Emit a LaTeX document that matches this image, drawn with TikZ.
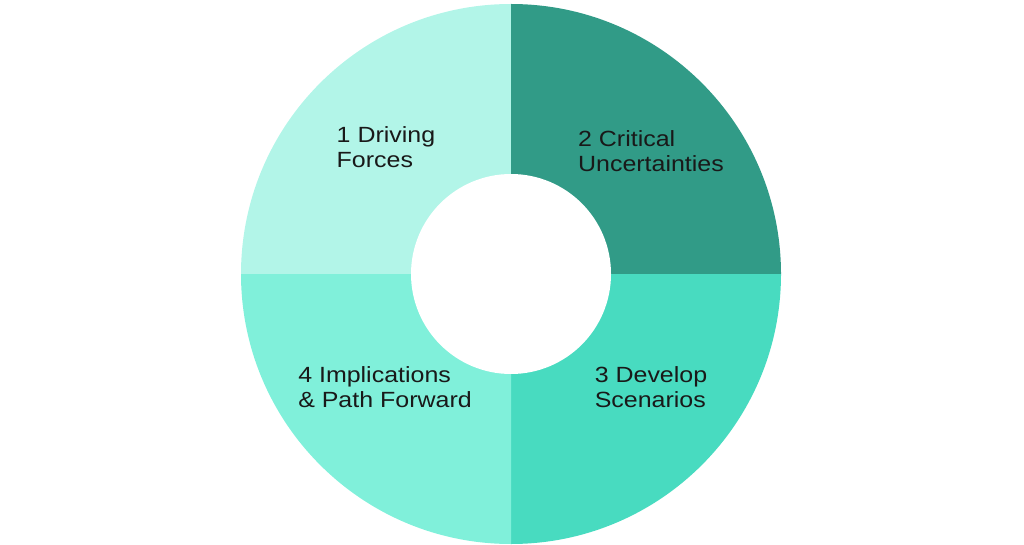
\documentclass[tikz,border=0pt]{standalone}
\usepackage{fontspec}
\setmainfont{Liberation Sans}[FakeStretch=1.135]
\usepackage{tikz}
\usetikzlibrary{positioning}
\definecolor{drive}{HTML}{B2F5E8}
\definecolor{crit}{HTML}{319B87}
\definecolor{dev}{HTML}{48DBC0}
\definecolor{impl}{HTML}{80F0DA}
\tikzset{
  lbl/.style={align=left, inner sep=0pt, font=\fontsize{22}{24.5}\selectfont, text=black!90},
}
\begin{document}
\begin{tikzpicture}[x=1pt, y=1pt]
  \useasboundingbox (0,0) rectangle (1024,544);
  \coordinate (ctr) at (511,270);
  % quadrants
  \fill[drive] (ctr) -- ++(90:270pt) arc (90:180:270pt) -- cycle;
  \fill[crit] (ctr) -- ++(0:270pt) arc (0:90:270pt) -- cycle;
  \fill[dev] (ctr) -- ++(-90:270pt) arc (-90:0:270pt) -- cycle;
  \fill[impl] (ctr) -- ++(180:270pt) arc (180:270:270pt) -- cycle;
  \fill[white] (ctr) circle (100pt);
  % labels
  \node[lbl] (driving) at (386,397) {1 Driving\\Forces};
  \node[lbl] (critical) at (651,393) {2 Critical\\Uncertainties};
  \node[lbl] (develop) at (651,157) {3 Develop\\Scenarios};
  \node[lbl] (implic) at (385,157) {4 Implications\\\& Path Forward};
\end{tikzpicture}
\end{document}
